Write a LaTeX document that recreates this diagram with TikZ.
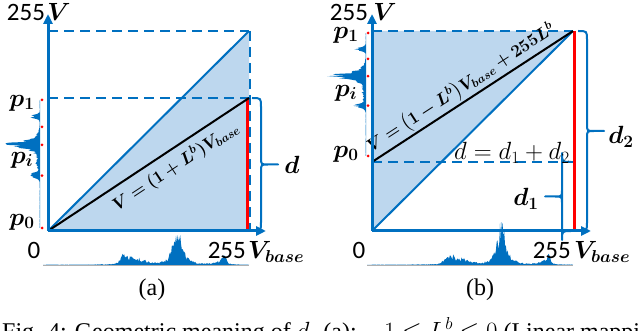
\documentclass[tikz,border=0pt]{standalone}
\usepackage{amsmath,amssymb,bm}
\usepackage{fontspec}
\setmainfont{Liberation Serif}
\newfontfamily\chiffres{Carlito}
\usepackage{tikz}
\usetikzlibrary{arrows.meta,calc}
\definecolor{bleuaxe}{RGB}{0,112,192}
\definecolor{bleuclair}{RGB}{189,215,238}
\definecolor{danger}{RGB}{255,0,0}
\definecolor{gristik}{RGB}{175,175,175}
\newcommand{\histbas}[1]{%
  \draw[gristik,line width=0.8pt](#1-5,265.5)--(#1+201,265.5);
  \fill[bleuaxe](#1-5,265)--plot[domain=0:200,samples=240]
   ({#1+\x},{265-(0.3+8*exp(-((\x-77)/6)^2)+4*exp(-((\x-90)/10)^2)
     +10*exp(-((\x-130)/11)^2)+20*exp(-((\x-129)/5)^2)+6*exp(-((\x-176)/3.5)^2)
     +2*exp(-((\x-172)/8)^2)+1.5*exp(-((\x-120)/50)^2))*(0.6+0.8*rnd)})
   --(#1+201,265)--cycle;}
\newcommand{\histgauche}[3]{%
  \fill[bleuaxe](#1,#2)--plot[domain=0:1,samples=170,variable=\t]
   ({#1-(0.3+8*exp(-((\t-0.87)/0.02)^2)+18*exp(-((\t-0.65)/0.03)^2)
     +10*exp(-((\t-0.65)/0.07)^2)+9*exp(-((\t-0.41)/0.025)^2)
     +3*exp(-((\t-0.5)/0.06)^2))*(0.6+0.8*rnd)},{#2+\t*(#3-#2)})--(#1,#3)--cycle;
  \foreach \pos in {0,0.41,0.65,0.79,1}
    {\fill[danger](#1+2,{#2+\pos*(#3-#2)}) circle (1.5pt);}}
\newcommand{\accolade}[5]{% x, haut, bas, sens, pointe
  \pgfmathsetmacro{\ym}{(#2+#3)/2}
  \draw[bleuaxe,line width=2pt,line join=round]
   (#1,#2) .. controls ({#1+#4*9},#2) .. ({#1+#4*9},#2+9)
   -- ({#1+#4*9},\ym-7) .. controls ({#1+#4*9},\ym) .. ({#1+#4*16},\ym)
   -- ({#1+#4*#5},\ym) -- ({#1+#4*16},\ym)
   .. controls ({#1+#4*9},\ym) .. ({#1+#4*9},\ym+7)
   -- ({#1+#4*9},#3-9) .. controls ({#1+#4*9},#3) .. (#1,#3);}

\begin{document}
\begin{tikzpicture}[x=1pt,y=-1pt,
  axe/.style={bleuaxe,line width=3pt,-{Triangle[length=10pt,width=9pt]}},
  pointille/.style={bleuaxe,line width=2.5pt,dash pattern=on 10pt off 6pt},
  etiq/.style={font=\fontsize{27}{29}\selectfont,inner sep=0pt},
  lettre/.style={font=\fontsize{24}{26}\selectfont,inner sep=0pt},
  chiffre/.style={font=\chiffres\fontsize{25}{27}\selectfont,inner sep=0pt},
  formule/.style={font=\fontsize{18}{20}\selectfont,inner sep=1pt},
  legende/.style={font=\fontsize{24}{26}\selectfont,inner sep=0pt}]
  \useasboundingbox (0,0) rectangle (640,331);
  \clip (0,0) rectangle (640,331);
  \pgfmathsetseed{11}
  % (a)
  \coordinate (Oa) at (48,231);
  \coordinate (Ya) at (48,31);
  \coordinate (Ha) at (249,31);
  \coordinate (Ba) at (249,231);
  \coordinate (Pa) at (48,98);
  \coordinate (Ma) at (249,98);
  \fill[bleuclair](Oa)--(Ha)--(Ba)--cycle;
  \draw[pointille](Ya)--(Ha);
  \draw[pointille](250,31)--(250,231);
  \draw[pointille](Pa)--(Ma);
  \draw[bleuaxe,line width=2pt](Oa)--(Ha);
  \draw[danger,line width=3pt](247,98)--(247,231);
  \draw[line width=2pt](Oa)--(Ma)
    node[formule,pos=0.59,sloped,below=5pt]{$\bm{V=(1+L^{b})V_{base}}$};
  \draw[axe](Oa)--(48,14);
  \draw[axe](Oa)--(266,231);
  \histbas{48}
  \histgauche{40}{228}{100}
  \accolade{252}{98}{231}{1}{26}
  \node[lettre] (da) at (292,165) {$\bm{d}$};
  \node[chiffre] (ha) at (26,12) {255};
  \node[lettre] (va) at (59,12) {$\bm{V}$};
  \node[chiffre] (za) at (34,250) {0};
  \node[chiffre,anchor=east] (ba) at (246,250) {255};
  \node[lettre,anchor=west] (vba) at (248,252) {$\bm{V_{base}}$};
  \node[etiq] (p1a) at (22,103) {$\bm{p_1}$};
  \node[etiq] (pia) at (22,160) {$\bm{p_i}$};
  \node[etiq] (p0a) at (22,222) {$\bm{p_0}$};
  \node[legende] (capa) at (152,290) {(a)};
  % (b)
  \coordinate (Ob) at (372,231);
  \coordinate (Yb) at (372,31);
  \coordinate (Hb) at (573,31);
  \coordinate (Bb) at (574,231);
  \coordinate (Pb) at (372,162);
  \coordinate (Mb) at (574,162);
  \fill[bleuclair](Ob)--(Yb)--(Hb)--cycle;
  \draw[pointille](Yb)--(Hb);
  \draw[pointille](Pb)--(Mb);
  \draw[bleuaxe,line width=2pt](Ob)--(Hb);
  \draw[danger,line width=3pt](574,31)--(Bb);
  \draw[line width=2pt](Pb)--(Hb)
    node[formule,pos=0.48,sloped,above=0pt]{$\bm{V=\big(1-L^{b}\big)V_{base}+255L^{b}}$};
  \draw[axe](Ob)--(372,14);
  \draw[axe](Ob)--(591,231);
  \histbas{372}
  \histgauche{366}{156}{33}
  \accolade{578}{31}{231}{1}{26}
  \accolade{571}{231}{162}{-1}{26}
  \node[lettre] (d2b) at (621,137) {$\bm{d_2}$};
  \node[lettre] (d1b) at (526,199) {$\bm{d_1}$};
  \node[formule,font=\fontsize{27}{29}\selectfont] (db) at (512,153) {$d=d_1+d_2$};
  \node[chiffre] (hb) at (349,12) {255};
  \node[lettre] (vb) at (385,12) {$\bm{V}$};
  \node[chiffre] (zb) at (359,250) {0};
  \node[chiffre,anchor=east] (bb) at (571,250) {255};
  \node[lettre,anchor=west] (vbb) at (574,252) {$\bm{V_{base}}$};
  \node[etiq] (p1b) at (346,35) {$\bm{p_1}$};
  \node[etiq] (pib) at (346,93) {$\bm{p_i}$};
  \node[etiq] (p0b) at (346,154) {$\bm{p_0}$};
  \node[legende] (capb) at (480,290) {(b)};
  \node[legende,anchor=base west] (fig) at (2,339)
    {Fig. 4: Geometric meaning of $d$. (a): $-1\leq L^{b}\leq 0$ (Linear mapping};
\end{tikzpicture}
\end{document}
